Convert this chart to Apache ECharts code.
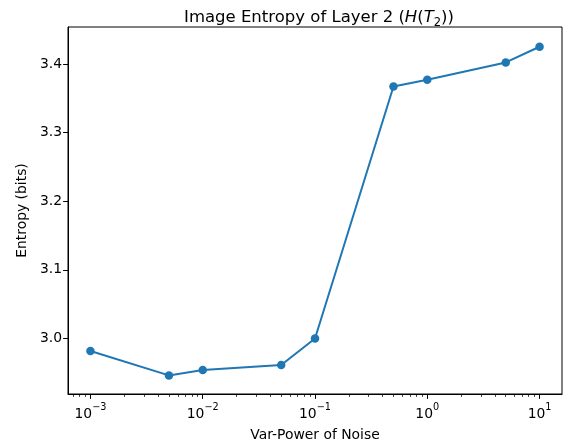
<!DOCTYPE html>
<html>
<head>
<meta charset="utf-8">
<script src="https://cdn.jsdelivr.net/npm/echarts@6/dist/echarts.min.js"></script>
<style>
html, body { margin: 0; padding: 0; background: #fff; }
#chart { width: 565px; height: 445px; }
</style>
</head>
<body>
<div id="chart"></div>
<script>
// ---- data ----
var noiseVar = [0.001, 0.005, 0.01, 0.05, 0.1, 0.5, 1, 5, 10];
var entropy = [2.9816, 2.9461, 2.9539, 2.9612, 3.0000, 3.3673, 3.3771, 3.4023, 3.4252];
var xTicks = [0.001, 0.01, 0.1, 1, 10];
var yTicks = [3.0, 3.1, 3.2, 3.3, 3.4];
var titleText = 'Image Entropy of Layer 2 (';
var xName = 'Var-Power of Noise';
var yName = 'Entropy (bits)';

// minor ticks of a log axis (2..9 x 10^n)
var xMinorTicks = [];
for (var e = -4; e <= 1; e++) {
  for (var m = 2; m <= 9; m++) {
    xMinorTicks.push(+(m * Math.pow(10, e)).toPrecision(3));
  }
}

var FONT = 'DejaVu Sans';
var BLUE = '#1f77b4';
var xMin = Math.pow(10, -3.2), xMax = Math.pow(10, 1.2);

var chart = echarts.init(document.getElementById('chart'), null, { renderer: 'canvas' });

var seriesData = noiseVar.map(function (v, i) { return [v, entropy[i]]; });

function supLabel(v) {
  var ex = Math.round(Math.log(v) / Math.LN10);
  var s = ex < 0 ? '\u2212' + (-ex) : '' + ex;
  return '{b|10}{s|' + s + '}';
}

var option = {
  animation: false,
  backgroundColor: '#fff',
  title: {
    text: '{n|' + titleText + '}{i|H}{n|(}{i|T}{sub|2}{n|))}',
    left: 314,
    textAlign: 'center',
    top: 2,
    textStyle: {
      fontWeight: 'normal',
      rich: {
        n: { fontFamily: FONT, fontSize: 16.5, fontWeight: 'normal', color: '#000', lineHeight: 22 },
        i: { fontFamily: FONT, fontSize: 16.5, fontWeight: 'normal', fontStyle: 'italic', color: '#000', lineHeight: 22 },
        sub: { fontFamily: FONT, fontSize: 11.5, fontWeight: 'normal', color: '#000', lineHeight: 12, verticalAlign: 'bottom' }
      }
    }
  },
  grid: {
    left: 68, right: 3, top: 27, bottom: 51,
    outerBoundsMode: 'none',
    containLabel: false,
    show: true, borderColor: '#000', borderWidth: 1, backgroundColor: 'transparent'
  },
  xAxis: [{
    type: 'log',
    logBase: 10,
    min: xMin,
    max: xMax,
    name: xName,
    nameLocation: 'middle',
    nameGap: 34,
    nameTextStyle: { fontFamily: FONT, fontSize: 13.9, color: '#000' },
    axisLine: { show: true, lineStyle: { color: '#000', width: 1 } },
    axisTick: { show: true, length: 4.9, customValues: xTicks, lineStyle: { color: '#000', width: 1 } },
    axisLabel: {
      customValues: xTicks,
      margin: 8,
      formatter: supLabel,
      rich: {
        b: { fontFamily: FONT, fontSize: 13.9, color: '#000', lineHeight: 19, verticalAlign: 'bottom' },
        s: { fontFamily: FONT, fontSize: 9.7, color: '#000', verticalAlign: 'top' }
      }
    },
    splitLine: { show: false },
    minorTick: { show: false }
  }, {
    type: 'log',
    logBase: 10,
    min: xMin,
    max: xMax,
    position: 'bottom',
    axisLine: { show: false },
    axisTick: { show: true, length: 2.8, customValues: xMinorTicks, lineStyle: { color: '#000', width: 0.8 } },
    axisLabel: { show: false },
    splitLine: { show: false }
  }],
  yAxis: {
    type: 'value',
    min: 2.919,
    max: 3.454,
    name: yName,
    nameLocation: 'middle',
    nameGap: 38,
    nameTextStyle: { fontFamily: FONT, fontSize: 13.9, color: '#000' },
    axisLine: { show: true, lineStyle: { color: '#000', width: 1 } },
    axisTick: { show: true, length: 4.9, customValues: yTicks, lineStyle: { color: '#000', width: 1 } },
    axisLabel: {
      customValues: yTicks,
      margin: 6,
      fontFamily: FONT,
      fontSize: 13.9,
      color: '#000',
      formatter: function (v) { return v.toFixed(1); }
    },
    splitLine: { show: false }
  },
  series: [{
    type: 'line',
    xAxisIndex: 0,
    data: seriesData,
    symbol: 'circle',
    symbolSize: 8.5,
    showSymbol: true,
    color: BLUE,
    lineStyle: { color: BLUE, width: 2 },
    itemStyle: { color: BLUE, borderWidth: 0 },
    clip: false
  }]
};

chart.setOption(option);
</script>
</body>
</html>
